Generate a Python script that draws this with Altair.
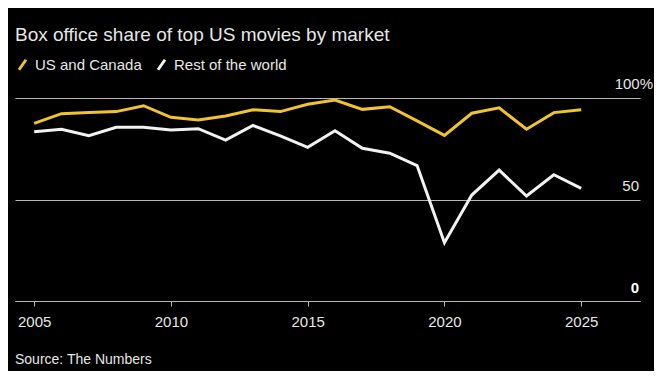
import altair as alt
import pandas as pd

years = list(range(2005, 2026))
us_canada = [87.5, 92.3, 92.8, 93.3, 96.2, 90.5, 89.2, 91.1, 94.2, 93.3, 96.9,
             99.0, 94.4, 95.7, 88.7, 81.6, 92.5, 95.2, 84.6, 92.8, 94.2]
rest_world = [83.4, 84.6, 81.4, 85.6, 85.6, 84.2, 84.9, 79.3, 86.5, 81.3, 75.7,
              83.9, 75.2, 72.8, 66.7, 28.7, 52.2, 64.5, 51.7, 62.2, 55.5]
series_names = ["US and Canada", "Rest of the world"]
series_colors = ["#f2c42c", "#f2f2f2"]
x_ticks = [2005, 2010, 2015, 2020, 2025]
y_ticks = [100, 50, 0]
y_tick_labels = ["100%", "50", "0"]

FONT = "Liberation Sans"
TEXT = "#e6e6e6"
GRID = "#b8b8b8"

df = pd.DataFrame({
    "year": years * 2,
    "share": us_canada + rest_world,
    "market": [series_names[0]] * len(years) + [series_names[1]] * len(years),
})
labels_df = pd.DataFrame({"v": y_ticks, "label": y_tick_labels})

x_scale = alt.Scale(domain=[2004.3, 2027.15], nice=False, zero=False)
y_scale = alt.Scale(domain=[0, 100], nice=False)

lines = alt.Chart(df).mark_line(strokeWidth=3).encode(
    x=alt.X("year:Q", scale=x_scale, title=None,
            axis=alt.Axis(values=x_ticks, format="d", grid=False,
                          domainColor=GRID, tickColor=GRID, tickSize=5,
                          labelPadding=8, labelFontSize=15, labelColor=TEXT,
                          labelFont=FONT)),
    y=alt.Y("share:Q", scale=y_scale, title=None,
            axis=alt.Axis(values=y_ticks, grid=True, gridColor=GRID,
                          gridWidth=1.2, labels=False, ticks=False,
                          domain=False, orient="right")),
    color=alt.Color("market:N",
                    scale=alt.Scale(domain=series_names, range=series_colors),
                    sort=series_names,
                    legend=alt.Legend(title=None, orient="none", legendX=0,
                                      legendY=-41, direction="horizontal",
                                      symbolType="M-0.7,1L0.7,-1",
                                      symbolSize=100, symbolStrokeWidth=3,
                                      labelFontSize=15, labelColor=TEXT,
                                      labelFont=FONT, labelOffset=5,
                                      columnPadding=10, padding=0)),
)

base_lbl = alt.Chart(labels_df)
lbl_pct = base_lbl.transform_filter("datum.v == 100").mark_text(
    align="right", baseline="alphabetic", dy=-9, fontSize=15, font=FONT,
    color=TEXT).encode(y=alt.Y("v:Q", scale=y_scale), x=alt.value(638),
                       text="label:N")
lbl_50 = base_lbl.transform_filter("datum.v == 50").mark_text(
    align="right", baseline="alphabetic", dy=-9, fontSize=15, font=FONT,
    color=TEXT).encode(y=alt.Y("v:Q", scale=y_scale), x=alt.value(624),
                       text="label:N")
lbl_0 = base_lbl.transform_filter("datum.v == 0").mark_text(
    align="right", baseline="alphabetic", dy=-8, fontSize=15, font=FONT,
    fontWeight="bold", color="#ffffff").encode(
        y=alt.Y("v:Q", scale=y_scale), x=alt.value(624), text="label:N")

source = alt.Chart(pd.DataFrame({"t": ["Source: The Numbers"]})).mark_text(
    align="left", baseline="alphabetic", fontSize=14, font=FONT,
    color=TEXT).encode(x=alt.value(0), y=alt.value(266), text="t:N")

chart = alt.layer(lines, lbl_pct, lbl_50, lbl_0, source).properties(
    width=625, height=203,
    title=alt.TitleParams("Box office share of top US movies by market",
                          anchor="start", frame="group", fontSize=19,
                          font=FONT, fontWeight="normal", color=TEXT,
                          baseline="alphabetic", offset=-3),
    autosize=alt.AutoSizeParams(type="none"),
    padding={"left": 7, "top": 90, "right": 14, "bottom": 70},
    background="#000000",
).configure_view(stroke=None).resolve_scale(y="shared")

chart.save("out.html", embed_options={"renderer": "svg", "actions": False})
